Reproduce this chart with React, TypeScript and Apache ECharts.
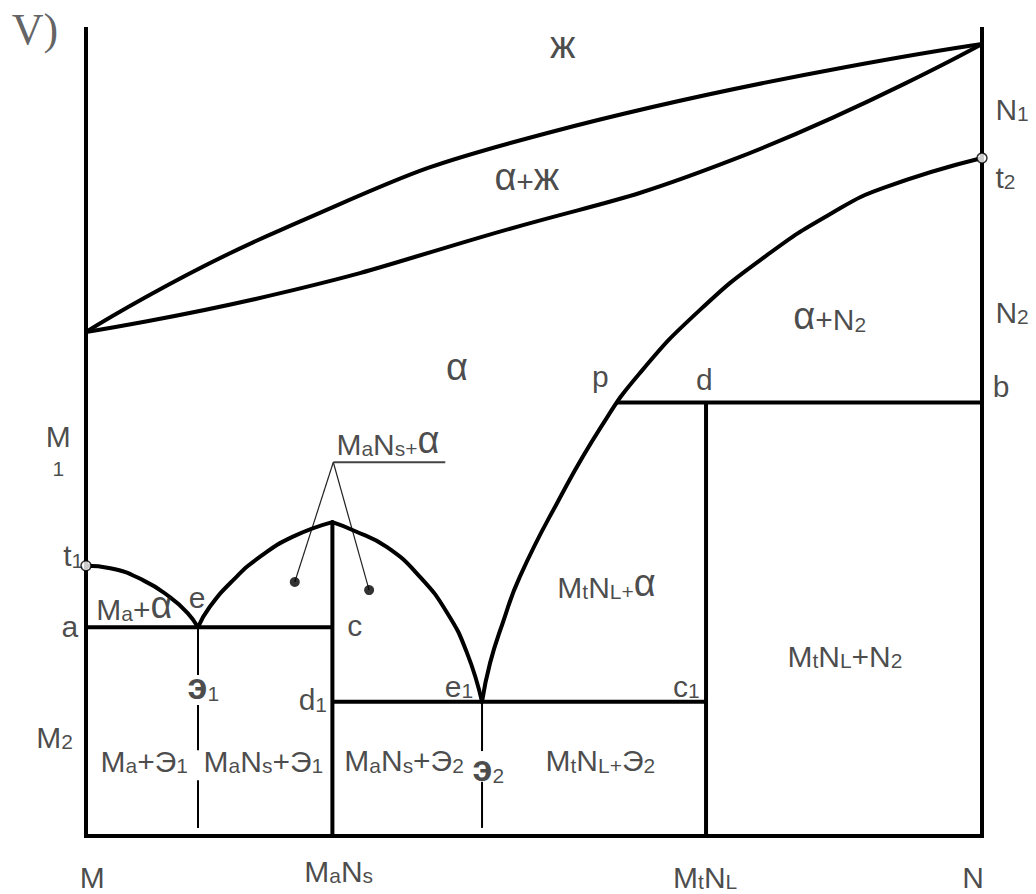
import React, { useEffect, useRef } from "react";
import * as echarts from "echarts";

// Composition axis: 0 = M … 100 = N ; temperature axis: arbitrary 0 … 100

// Liquidus / solidus of the α field (M … N)
const LIQUIDUS_X = [0, 21.7, 51.5, 100];
const LIQUIDUS_Y = [62.3, 74.9, 86.9, 97.9];
const SOLIDUS_X = [0, 21.7, 44.0, 72.2, 100];
const SOLIDUS_Y = [62.3, 67.1, 74.0, 83.6, 97.9];

// Solvus from e1 through p up to t2
const SOLVUS_X = [44.2, 45.1, 46.5, 48.4, 52.6, 57.5, 61.8, 68.5, 76.0, 83.4, 89.0, 100];
const SOLVUS_Y = [16.6, 21.4, 26.3, 32.0, 41.2, 50.6, 57.2, 65.0, 71.8, 77.1, 80.1, 83.8];

// t1 – e
const T1_E_X = [0, 2.7, 6.4, 9.4, 11.3, 12.5];
const T1_E_Y = [33.4, 33.1, 31.6, 29.5, 27.6, 25.8];
// e – MaNs maximum
const E_PEAK_X = [12.5, 13.8, 16.4, 19.4, 23.1, 27.5];
const E_PEAK_Y = [25.8, 28.3, 31.6, 34.5, 37.0, 38.8];
// MaNs maximum – e1
const PEAK_E1_X = [27.5, 29.8, 33.6, 37.3, 40.3, 42.5, 44.2];
const PEAK_E1_Y = [38.8, 37.8, 35.7, 32.0, 27.6, 22.7, 16.6];

// Frame: left axis, base, right axis
const FRAME_X = [0, 0, 100, 100];
const FRAME_Y = [100, 0, 0, 100];

// Horizontal and vertical tie lines [x1, y1, x2, y2]
const TIE_LINES = [
  [0, 25.8, 27.5, 25.8], // a – c
  [27.5, 16.6, 69.2, 16.6], // d1 – c1
  [59.2, 53.6, 100, 53.6], // p – b
  [27.5, 0, 27.5, 38.8], // MaNs
  [69.2, 0, 69.2, 53.6], // MtNL
];

// Eutectic composition verticals (broken by labels)
const E1_X = 12.5;
const E1_SEGMENTS = [
  [25.8, 19.9],
  [16.2, 10.6],
  [6.9, 1.0],
];
const E2_X = 44.2;
const E2_SEGMENTS = [
  [16.6, 10.5],
  [6.7, 1.0],
];

// Leader for "MaNs+α"
const LEADER_APEX = [27.6, 46.2];
const LEADER_DOTS_X = [23.3, 31.6];
const LEADER_DOTS_Y = [31.4, 30.4];
const LEADER_UNDERLINE_END_X = 40.1;

// Melting points t1, t2
const T_POINTS_X = [0, 100];
const T_POINTS_Y = [33.4, 83.8];

// Labels ("_" = next char is a subscript), anchored at text baseline
const LABEL_TEXT = [
  "ж", "α+ж", "N_1", "t_2", "N_2", "α+N_2", "α", "p", "d", "b",
  "M", "_1", "M_aN_s_+α", "t_1", "M_a+α", "e", "a", "c", "э_1", "d_1",
  "e_1", "c_1", "M_tN_L_+α", "M_tN_L+N_2", "M_2", "M_a+Э_1", "M_aN_s+Э_1", "M_aN_s+Э_2", "э_2", "M_tN_L_+Э_2",
  "M", "M_aN_s", "M_tN_L", "N",
];
const LABEL_X = [
  53.2, 49.2, 101.5, 101.5, 101.5, 83.0, 41.4, 57.4, 69.0, 101.2,
  -3.1, -3.1, 33.7, -0.3, 5.4, 12.4, -1.8, 30.0, 13.1, 26.9,
  43.2, 68.5, 58.1, 84.7, -3.5, 6.5, 19.8, 35.5, 44.9, 57.4,
  0.7, 28.2, 69.1, 99.0,
];
const LABEL_Y = [
  95.9, 79.6, 88.5, 80.1, 63.4, 62.5, 56.1, 55.5, 55.1, 54.3,
  48.1, 44.6, 47.1, 33.3, 26.7, 28.2, 24.6, 24.7, 16.8, 15.5,
  17.2, 17.2, 29.4, 20.9, 10.9, 7.9, 7.9, 8.0, 6.7, 8.0,
  -6.4, -5.7, -6.4, -6.4,
];
const LABEL_ALIGN = [
  "center", "center", "left", "left", "left", "center", "center", "center", "center", "left",
  "center", "center", "center", "right", "center", "center", "center", "center", "center", "right",
  "right", "right", "center", "center", "center", "center", "center", "center", "center", "center",
  "center", "center", "center", "center",
];

const PANEL_TITLE = "V)";
const PANEL_TITLE_POS = [-8.3, 97.8];

const FONT = "'Liberation Sans', Arial, sans-serif";
const INK = "#000000";
const TEXT = "#1c1c1c";

function toRich(text: string): string {
  let out = "";
  let cur = "";
  let curStyle = "";
  const push = () => {
    if (cur) out += `{${curStyle}|${cur}}`;
    cur = "";
  };
  for (let i = 0; i < text.length; i++) {
    let ch = text[i];
    let st = "m";
    if (ch === "_") {
      i++;
      ch = text[i];
      st = "s";
    } else if (ch === "э") {
      st = "b";
    } else if ("αж".includes(ch)) {
      st = "g";
    }
    if (st !== curStyle) {
      push();
      curStyle = st;
    }
    cur += ch;
  }
  push();
  return out;
}

function pairs(xs: number[], ys: number[]) {
  return xs.map((x, i) => [x, ys[i]]);
}

export default function App() {
  const ref = useRef<HTMLDivElement>(null);

  useEffect(() => {
    if (!ref.current) return;
    const chart = echarts.init(ref.current, null, { renderer: "svg" });

    const curve = (name: string, xs: number[], ys: number[]) => ({
      type: "line",
      name,
      data: pairs(xs, ys),
      smooth: 0.5,
      symbol: "none",
      clip: false,
      silent: true,
      lineStyle: { color: INK, width: 4, cap: "round", join: "round" },
      z: 3,
    });

    const straight = (name: string, coords: number[][][], width: number, color = INK) => ({
      type: "lines",
      name,
      coordinateSystem: "cartesian2d",
      polyline: true,
      clip: false,
      silent: true,
      data: coords.map((c) => ({ coords: c })),
      lineStyle: { color, width, opacity: 1, cap: "butt", join: "miter", curveness: 0 },
      effect: { show: false },
      z: 3,
    });

    const labelData = LABEL_TEXT.map((t, i) => ({
      name: t,
      value: [LABEL_X[i], LABEL_Y[i]],
      label: { align: LABEL_ALIGN[i] },
    }));

    const richStyles = {
      m: { fontFamily: FONT, fontSize: 30, lineHeight: 30, color: TEXT, verticalAlign: "bottom" },
      s: { fontFamily: FONT, fontSize: 21, lineHeight: 21, color: TEXT, verticalAlign: "bottom" },
      g: { fontFamily: FONT, fontSize: 38, lineHeight: 38, color: TEXT, verticalAlign: "bottom" },
      b: { fontFamily: FONT, fontSize: 36, lineHeight: 36, fontWeight: "bold", color: TEXT, verticalAlign: "bottom" },
    };

    chart.setOption({
      animation: false,
      backgroundColor: "#ffffff",
      grid: { left: 86, right: 54, top: 27, bottom: 58, containLabel: false },
      xAxis: { type: "value", min: 0, max: 100, show: false },
      yAxis: { type: "value", min: 0, max: 100, show: false },
      tooltip: { show: false },
      series: [
        straight("frame", [pairs(FRAME_X, FRAME_Y)], 4),
        straight(
          "tie lines",
          TIE_LINES.map((l) => [
            [l[0], l[1]],
            [l[2], l[3]],
          ]),
          4
        ),
        straight(
          "eutectic verticals",
          [
            ...E1_SEGMENTS.map((s) => [
              [E1_X, s[0]],
              [E1_X, s[1]],
            ]),
            ...E2_SEGMENTS.map((s) => [
              [E2_X, s[0]],
              [E2_X, s[1]],
            ]),
          ],
          2
        ),
        straight(
          "leader",
          LEADER_DOTS_X.map((x, i) => [LEADER_APEX, [x, LEADER_DOTS_Y[i]]]),
          1.2,
          "#222222"
        ),
        straight(
          "underline",
          [[LEADER_APEX, [LEADER_UNDERLINE_END_X, LEADER_APEX[1]]]],
          2,
          "#444444"
        ),
        curve("liquidus", LIQUIDUS_X, LIQUIDUS_Y),
        curve("solidus", SOLIDUS_X, SOLIDUS_Y),
        curve("solvus", SOLVUS_X, SOLVUS_Y),
        curve("t1-e", T1_E_X, T1_E_Y),
        curve("e-peak", E_PEAK_X, E_PEAK_Y),
        curve("peak-e1", PEAK_E1_X, PEAK_E1_Y),
        {
          type: "scatter",
          name: "leader dots",
          data: pairs(LEADER_DOTS_X, LEADER_DOTS_Y),
          symbol: "circle",
          symbolSize: 10,
          clip: false,
          silent: true,
          itemStyle: { color: "#000000" },
          z: 5,
        },
        {
          type: "scatter",
          name: "melting points",
          data: pairs(T_POINTS_X, T_POINTS_Y),
          symbol: "circle",
          symbolSize: 10,
          clip: false,
          silent: true,
          itemStyle: { color: "#ffffff", borderColor: "#000000", borderWidth: 1.5 },
          z: 6,
        },
        {
          type: "scatter",
          name: "labels",
          data: labelData,
          symbolSize: 1,
          clip: false,
          silent: true,
          itemStyle: { color: "rgba(0,0,0,0)" },
          label: {
            show: true,
            position: "inside",
            verticalAlign: "bottom",
            offset: [0, 4.3],
            formatter: (p: any) => toRich(p.name),
            rich: richStyles,
          },
          z: 7,
        },
        {
          type: "scatter",
          name: "panel title",
          data: [{ name: PANEL_TITLE, value: PANEL_TITLE_POS }],
          symbolSize: 1,
          clip: false,
          silent: true,
          itemStyle: { color: "rgba(0,0,0,0)" },
          label: {
            show: true,
            position: "inside",
            align: "left",
            verticalAlign: "bottom",
            offset: [0, 7],
            formatter: (p: any) => p.name,
            fontFamily: "'Liberation Serif', 'Times New Roman', serif",
            fontSize: 44,
            color: "#3a3a3a",
          },
          z: 7,
        },
      ],
    });

    return () => chart.dispose();
  }, []);

  return (
    <div
      ref={ref}
      style={{ position: "absolute", left: 0, top: 0, width: 1036, height: 894, background: "#ffffff" }}
    />
  );
}
